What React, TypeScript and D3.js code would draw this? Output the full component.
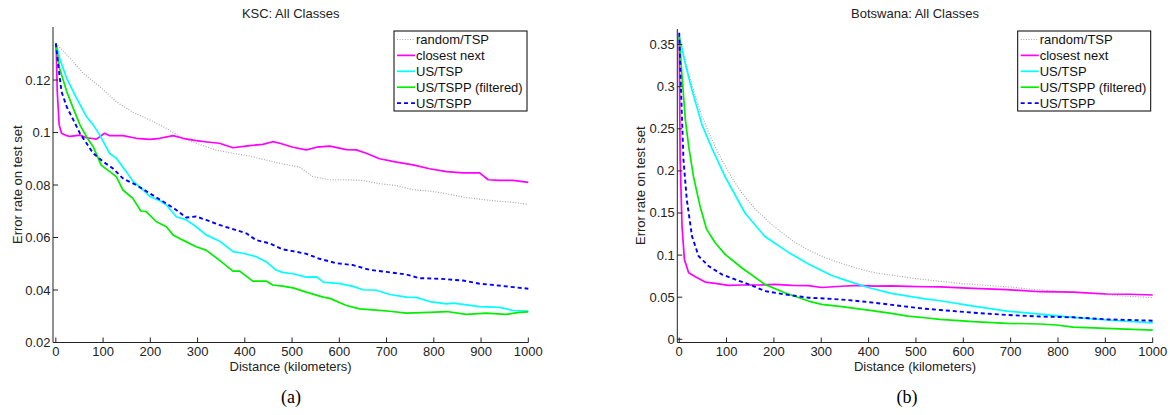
import React, { useEffect, useRef } from "react";
import * as d3 from "d3";

// distance (km) / error rate pairs
const kscRandom = [[0,0.134],[30,0.1283],[58,0.1225],[93,0.1175],[128,0.1117],[163,0.1077],[199,0.1048],[234,0.1016],[269,0.0978],[304,0.0955],[339,0.0933],[375,0.0921],[410,0.091],[445,0.0895],[480,0.088],[516,0.0868],[544,0.0832],[580,0.082],[615,0.082],[650,0.0817],[685,0.0805],[721,0.0798],[756,0.0782],[791,0.0777],[827,0.0767],[862,0.0754],[897,0.0746],[932,0.0739],[968,0.0734],[1000,0.0726]];
const kscClosest = [[0,0.134],[1,0.131],[3,0.1156],[7,0.103],[12,0.0997],[23,0.0988],[30,0.0985],[51,0.099],[65,0.098],[86,0.0975],[103,0.0997],[114,0.0988],[142,0.0988],[170,0.0978],[199,0.0974],[220,0.0978],[248,0.0988],[269,0.0978],[297,0.0969],[325,0.0963],[346,0.0959],[375,0.0942],[410,0.095],[438,0.0955],[459,0.0965],[474,0.0959],[502,0.0944],[530,0.0934],[552,0.0944],[580,0.0948],[615,0.0935],[636,0.0934],[657,0.0921],[685,0.09],[721,0.0887],[756,0.0877],[791,0.0862],[827,0.0851],[862,0.0846],[897,0.0846],[915,0.082],[939,0.0818],[968,0.0818],[1000,0.081]];
const kscUsTsp = [[0,0.134],[8,0.1283],[23,0.1206],[44,0.113],[65,0.106],[79,0.1029],[93,0.099],[114,0.092],[128,0.0902],[149,0.0851],[163,0.0815],[185,0.0781],[199,0.0756],[220,0.074],[234,0.0724],[255,0.0679],[276,0.0667],[297,0.0641],[318,0.061],[346,0.0587],[375,0.0546],[396,0.054],[424,0.0527],[445,0.0508],[466,0.0476],[480,0.0467],[502,0.0462],[530,0.0449],[552,0.045],[566,0.043],[601,0.0424],[629,0.0414],[650,0.0401],[678,0.0399],[707,0.0383],[742,0.0373],[763,0.0372],[791,0.0356],[827,0.0347],[841,0.035],[862,0.0345],[897,0.0337],[939,0.0334],[968,0.0322],[1000,0.032]];
const kscFiltered = [[0,0.134],[8,0.1244],[23,0.1156],[37,0.1092],[51,0.1029],[65,0.0984],[79,0.0946],[96,0.0876],[114,0.0851],[128,0.0832],[142,0.0781],[163,0.0749],[180,0.0701],[191,0.0699],[213,0.066],[234,0.0641],[248,0.061],[269,0.059],[297,0.0565],[318,0.0552],[346,0.0514],[375,0.0472],[389,0.0472],[417,0.0434],[445,0.0434],[459,0.0419],[480,0.0415],[502,0.0408],[530,0.0392],[566,0.0373],[580,0.0368],[615,0.0341],[643,0.0328],[671,0.0324],[707,0.0319],[742,0.0312],[791,0.0315],[827,0.0318],[869,0.0307],[911,0.0312],[953,0.0307],[981,0.0315],[1000,0.0317]];
const kscUsTspp = [[0,0.134],[5,0.1257],[12,0.1156],[23,0.1098],[37,0.1048],[51,0.0997],[65,0.0959],[79,0.0921],[100,0.0889],[121,0.0863],[142,0.0825],[170,0.08],[199,0.0768],[227,0.0737],[255,0.0705],[276,0.0676],[297,0.068],[318,0.0667],[346,0.0648],[375,0.0632],[403,0.0616],[424,0.059],[452,0.0578],[480,0.0555],[502,0.0548],[530,0.0538],[558,0.0519],[594,0.0502],[629,0.0495],[664,0.0477],[700,0.0469],[742,0.0459],[770,0.0445],[812,0.0443],[862,0.0436],[897,0.0424],[932,0.0418],[968,0.0411],[1000,0.0405]];

const bwRandom = [[0,0.36],[20,0.315],[34,0.289],[48,0.265],[69,0.237],[90,0.213],[111,0.192],[132,0.174],[160,0.155],[188,0.14],[216,0.127],[245,0.115],[273,0.106],[308,0.097],[343,0.09],[378,0.084],[413,0.079],[450,0.076],[500,0.072],[550,0.069],[600,0.066],[650,0.064],[700,0.062],[750,0.059],[800,0.057],[850,0.055],[900,0.053],[950,0.051],[1000,0.0495]];
const bwClosest = [[0,0.36],[2,0.2135],[6,0.134],[11,0.0949],[20,0.079],[34,0.0743],[55,0.068],[76,0.0664],[104,0.064],[132,0.0645],[167,0.0645],[202,0.0652],[238,0.064],[273,0.0638],[301,0.0615],[343,0.063],[378,0.064],[413,0.0632],[448,0.0635],[483,0.0628],[519,0.0624],[551,0.0622],[621,0.0605],[692,0.059],[762,0.0565],[832,0.056],[903,0.0538],[950,0.0535],[1000,0.0526]];
const bwUsTsp = [[0,0.36],[13,0.327],[27,0.296],[48,0.255],[69,0.227],[97,0.193],[139,0.15],[181,0.122],[230,0.1035],[273,0.0895],[322,0.0758],[357,0.0691],[399,0.0615],[448,0.0545],[519,0.048],[551,0.0458],[621,0.0395],[692,0.0335],[762,0.03],[832,0.0261],[903,0.0229],[1000,0.0195]];
const bwFiltered = [[0,0.36],[6,0.3124],[13,0.261],[20,0.2293],[30,0.1937],[44,0.1581],[58,0.1305],[76,0.1146],[97,0.1008],[132,0.085],[181,0.0652],[223,0.0553],[273,0.0454],[301,0.0415],[343,0.0387],[399,0.0347],[448,0.0308],[483,0.0276],[519,0.0256],[551,0.0237],[621,0.0209],[692,0.019],[762,0.0182],[797,0.017],[832,0.0145],[903,0.013],[1000,0.011]];
const bwUsTspp = [[0,0.364],[4,0.2926],[9,0.2135],[16,0.166],[27,0.1225],[41,0.0988],[62,0.087],[90,0.0771],[118,0.0711],[153,0.064],[181,0.0573],[223,0.0533],[273,0.0494],[315,0.0482],[357,0.0466],[413,0.0434],[469,0.0395],[519,0.0363],[551,0.0348],[621,0.0316],[692,0.0289],[762,0.027],[832,0.0261],[903,0.0237],[1000,0.0221]];

const seriesNames = ["random/TSP", "closest next", "US/TSP", "US/TSPP (filtered)", "US/TSPP"];
const distTicks = [0, 100, 200, 300, 400, 500, 600, 700, 800, 900, 1000];
const kscTicks = [0.02, 0.04, 0.06, 0.08, 0.1, 0.12];
const bwTicks = [0, 0.05, 0.1, 0.15, 0.2, 0.25, 0.3, 0.35];

const styles = [
  { color: "#a8a8a8", width: 1.2, dash: "1,1.6" },
  { color: "#ff00ff", width: 1.7, dash: null },
  { color: "#00ffff", width: 1.7, dash: null },
  { color: "#00ee00", width: 1.7, dash: null },
  { color: "#0000ff", width: 1.9, dash: "4,3" },
];

const FONT = "'Liberation Sans', Arial, Helvetica, sans-serif";

export default function App() {
  const ref = useRef(null);

  useEffect(() => {
    const svg = d3.select(ref.current);
    svg.selectAll("*").remove();

    const panels = [
      {
        title: "KSC: All Classes", tag: "(a)", tagX: 291,
        series: [kscRandom, kscClosest, kscUsTsp, kscFiltered, kscUsTspp],
        x: d3.scaleLinear().domain([-6, 1000]).range([53, 528.3]),
        y: d3.scaleLinear().domain([0.02, 0.1402]).range([342.5, 27]),
        yTicks: kscTicks, labelX: 17, legendX: 394,
      },
      {
        title: "Botswana: All Classes", tag: "(b)", tagX: 907,
        series: [bwRandom, bwClosest, bwUsTsp, bwFiltered, bwUsTspp],
        x: d3.scaleLinear().domain([-4, 1000]).range([677.3, 1152.7]),
        y: d3.scaleLinear().domain([-0.0038, 0.3685]).range([342.5, 29]),
        yTicks: bwTicks, labelX: 640, legendX: 1017.7,
      },
    ];

    panels.forEach(p => {
      const g = svg.append("g");
      const [x0, x1] = p.x.range();
      const [yb, yt] = p.y.range();

      // curves
      const line = d3.line().x(d => p.x(d[0])).y(d => p.y(d[1]));
      p.series.forEach((s, i) => {
        g.append("path")
          .attr("d", line(s))
          .attr("fill", "none")
          .attr("stroke", styles[i].color)
          .attr("stroke-width", styles[i].width)
          .attr("stroke-dasharray", styles[i].dash)
          .attr("stroke-linejoin", "round");
      });

      // axes
      g.append("line").attr("x1", x0).attr("x2", x0).attr("y1", yb).attr("y2", yt)
        .attr("stroke", "#222").attr("stroke-width", 1);
      g.append("line").attr("x1", x0).attr("x2", x1).attr("y1", yb).attr("y2", yb)
        .attr("stroke", "#222").attr("stroke-width", 1);

      distTicks.forEach(t => {
        g.append("line").attr("x1", p.x(t)).attr("x2", p.x(t)).attr("y1", yb).attr("y2", yb - 5)
          .attr("stroke", "#222");
        g.append("text").attr("x", p.x(t)).attr("y", yb + 13.5)
          .attr("text-anchor", "middle").attr("font-size", 13).attr("font-family", FONT)
          .attr("fill", "#222").text(t);
      });
      p.yTicks.forEach(t => {
        g.append("line").attr("x1", x0).attr("x2", x0 + 5).attr("y1", p.y(t)).attr("y2", p.y(t))
          .attr("stroke", "#222");
        g.append("text").attr("x", x0 - 2.5).attr("y", p.y(t) + 4.5)
          .attr("text-anchor", "end").attr("font-size", 13).attr("font-family", FONT)
          .attr("fill", "#222").text(String(+t.toFixed(3)));
      });

      const cx = (x0 + x1) / 2;
      g.append("text").attr("x", cx).attr("y", 17.5).attr("text-anchor", "middle")
        .attr("font-size", 13).attr("font-family", FONT).attr("fill", "#222").text(p.title);
      g.append("text").attr("x", cx).attr("y", 370.5).attr("text-anchor", "middle")
        .attr("font-size", 13).attr("font-family", FONT).attr("fill", "#222").text("Distance (kilometers)");
      g.append("text").attr("transform", `translate(${p.labelX + 4.5},${(yb + yt) / 2}) rotate(-90)`)
        .attr("text-anchor", "middle").attr("font-size", 13).attr("font-family", FONT)
        .attr("fill", "#222").text("Error rate on test set");
      g.append("text").attr("x", p.tagX).attr("y", 403).attr("text-anchor", "middle")
        .attr("font-size", 18).attr("font-family", "'Liberation Serif', 'Times New Roman', serif")
        .attr("fill", "#000").text(p.tag);

      // legend
      const lg = g.append("g").attr("transform", `translate(${p.legendX},31)`);
      lg.append("rect").attr("width", 133).attr("height", 80)
        .attr("fill", "#fff").attr("stroke", "#000").attr("stroke-width", 1);
      seriesNames.forEach((name, i) => {
        const yy = 8.5 + i * 15.9;
        lg.append("line").attr("x1", 3).attr("x2", 21).attr("y1", yy).attr("y2", yy)
          .attr("stroke", styles[i].color).attr("stroke-width", styles[i].width)
          .attr("stroke-dasharray", styles[i].dash);
        lg.append("text").attr("x", 22).attr("y", yy + 4.5)
          .attr("font-size", 13).attr("font-family", FONT).attr("fill", "#111").text(name);
      });
    });
  }, []);

  return (
    <div style={{ position: "absolute", left: 0, top: 0 }}>
      <svg ref={ref} width={1170} height={415} style={{ display: "block", background: "#fff" }} />
    </div>
  );
}
